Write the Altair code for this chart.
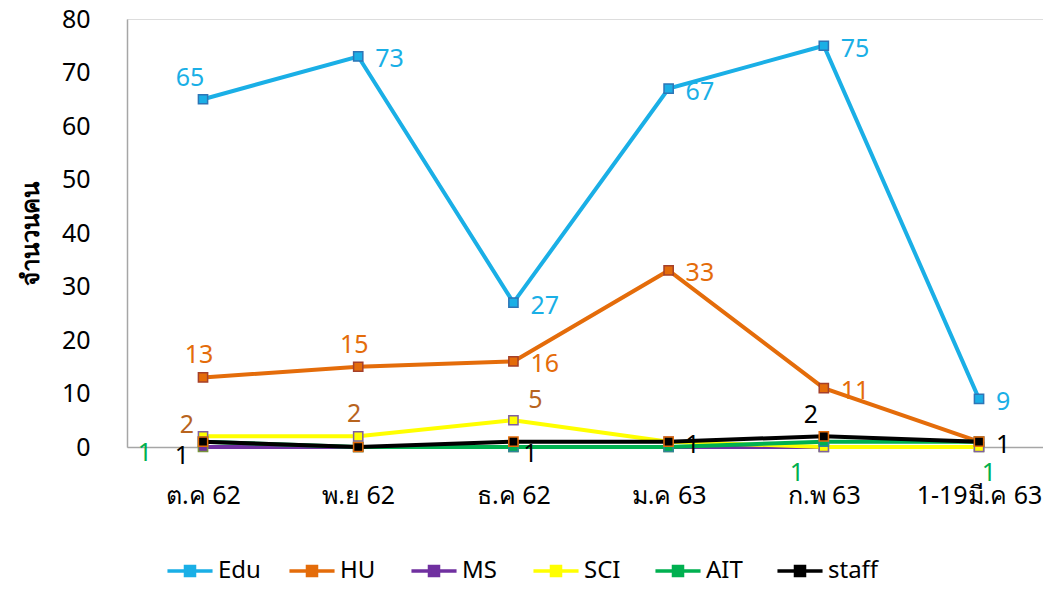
import altair as alt
import pandas as pd

# ---------------- data ----------------
months = ["ต.ค 62", "พ.ย 62", "ธ.ค 62", "ม.ค 63", "ก.พ 63", "1-19มี.ค 63"]
series_names = ["Edu", "HU", "MS", "SCI", "AIT", "staff"]

edu = [65, 73, 27, 67, 75, 9]
hu = [13, 15, 16, 33, 11, 1]
ms = [0, 0, 0, 0, 0, 0]
sci = [2, 2, 5, 1, 0, 0]
ait = [1, 0, 0, 0, 1, 1]
staff = [1, 0, 1, 1, 2, 1]

# which points carry a value label (and label placement keyword)
edu_lbl = ["aboveleft", "right", "right", "right", "right", "right"]
hu_lbl = ["above", "above", "right", "right", "right", None]
ms_lbl = [None, None, None, None, None, None]
sci_lbl = ["aboveleft2", "above", "aboveright", None, None, None]
ait_lbl = ["farleft", None, None, None, "belowleft2", "below"]
staff_lbl = ["belowleft", None, "belowright", "right", "aboveleft", "right"]

values = [edu, hu, ms, sci, ait, staff]
labels = [edu_lbl, hu_lbl, ms_lbl, sci_lbl, ait_lbl, staff_lbl]

rows = []
for s, vals, lbls in zip(series_names, values, labels):
    for m, v, p in zip(months, vals, lbls):
        rows.append({"month": m, "series": s, "value": v, "pos": p if p else "none"})
df = pd.DataFrame(rows)

# ---------------- styles ----------------
FONT = "Noto Sans"
line_colors = ["#1AAFE6", "#E46C0A", "#7030A0", "#FFFF00", "#00B050", "#000000"]
marker_edges = ["#2E75B6", "#A5402A", "#77933C", "#7F5FA0", "#31849B", "#E46C0A"]
label_colors = ["#1AAFE6", "#E46C0A", "#7030A0", "#B8641E", "#00B050", "#000000"]

placements = {
    "right": ("left", 17, 3),
    "above": ("center", -4, -22),
    "aboveleft": ("center", -13, -21),
    "aboveleft2": ("center", -16, -11),
    "aboveright": ("center", 22, -20),
    "belowleft": ("center", -21, 14),
    "belowleft2": ("center", -27, 31),
    "belowright": ("center", 17, 12),
    "below": ("center", 10, 31),
    "farleft": ("center", -58, 11),
}

# line with a square marker in the middle (wider than the symbol box)
legend_path = "M-2.05,0H-0.41M0.41,0H2.05M-0.41,-0.41H0.41V0.41H-0.41Z"

x_enc = alt.X(
    "month:N",
    sort=months,
    scale=alt.Scale(type="point", padding=0.451, align=0.543),
    axis=alt.Axis(
        title=None, labelFontSize=25, labelPadding=36, ticks=False,
        domainColor="#A6A6A6", domainWidth=1.5, labelColor="#000000", labelAngle=0,
        labelFont=FONT,
    ),
)
y_enc = alt.Y(
    "value:Q",
    scale=alt.Scale(domain=[0, 80], nice=False),
    axis=alt.Axis(
        title="จำนวนคน", values=list(range(0, 81, 10)), grid=False, ticks=False,
        domainColor="#A6A6A6", domainWidth=1.5, labelPadding=37, labelFontSize=25,
        labelColor="#000000", labelFont=FONT,
        titleFontSize=24, titleFontWeight="bold", titlePadding=18, titleColor="#000000",
        titleFont=FONT,
    ),
)
color_enc = alt.Color(
    "series:N",
    scale=alt.Scale(domain=series_names, range=line_colors),
    legend=alt.Legend(
        title=None, orient="none", legendX=50, legendY=539, direction="horizontal",
        columns=6, gridAlign="all", symbolType=legend_path, symbolSize=484,
        symbolStrokeWidth=3.5, labelFontSize=24, labelOffset=15, columnPadding=13,
        labelLimit=300, labelFont=FONT, labelColor="#000000",
    ),
)

base = alt.Chart(df)
layers = []
for s, edge in zip(series_names, marker_edges):
    flt = alt.datum.series == s
    layers.append(
        base.mark_line(strokeWidth=4).encode(x=x_enc, y=y_enc, color=color_enc).transform_filter(flt)
    )
    layers.append(
        base.mark_point(shape="square", filled=True, size=85, stroke=edge, strokeWidth=1.5, opacity=1)
        .encode(x=x_enc, y=y_enc, color=color_enc)
        .transform_filter(flt)
    )

for s, lc, lbls in zip(series_names, label_colors, labels):
    for p in sorted(set(l for l in lbls if l)):
        align, dx, dy = placements[p]
        layers.append(
            base.mark_text(align=align, baseline="middle", dx=dx, dy=dy, fontSize=25,
                           font=FONT, color=lc)
            .encode(x=x_enc, y=y_enc, text="value:Q")
            .transform_filter((alt.datum.series == s) & (alt.datum.pos == p))
        )

chart = (
    alt.layer(*layers)
    .properties(
        width=916, height=428,
        autosize=alt.AutoSizeParams(type="none"),
        padding={"left": 119, "top": 11, "right": 0, "bottom": 134},
    )
    .configure_view(stroke=None)
    .configure(font=FONT)
)

chart.save("out.html", embed_options={"renderer": "svg", "actions": False})
